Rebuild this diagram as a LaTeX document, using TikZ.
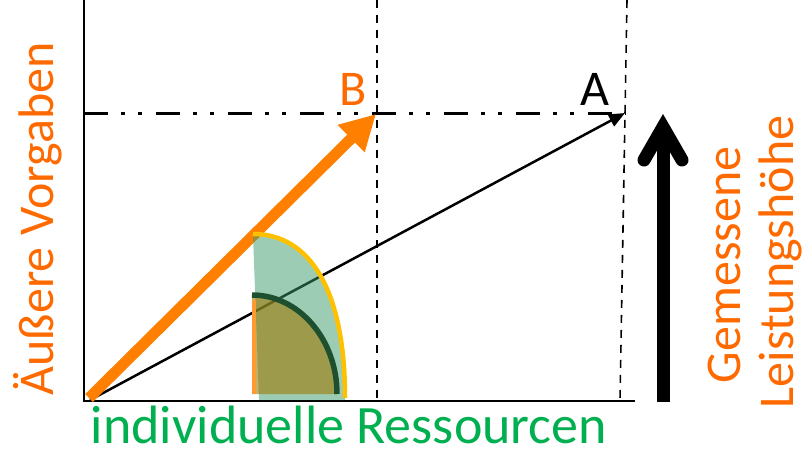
\documentclass[tikz,border=0pt]{standalone}
\usepackage{fontspec}
\setmainfont{Carlito}
\usetikzlibrary{arrows.meta}

\definecolor{vorgabeorange}{HTML}{FF6A00}
\definecolor{pfeilorange}{HTML}{FF8000}
\definecolor{ressgruen}{HTML}{00B050}
\definecolor{fuellgruen}{RGB}{59,153,105}
\definecolor{fuelloliv}{RGB}{159,121,5}
\definecolor{bogengruen}{HTML}{1E5030}
\definecolor{bogengelb}{HTML}{FFC000}

\tikzset{
  achse/.style={line width=2pt},
  hilfslinie/.style={line width=1.6pt, dash pattern=on 8pt off 7pt},
  niveau/.style={line width=3pt, dash pattern=on 24pt off 13pt on 4pt off 13pt on 4pt off 14pt},
  beschriftung/.style={inner sep=0pt, font=\fontsize{50}{54}\selectfont}
}

\begin{document}
\begin{tikzpicture}[x=1pt, y=-1pt]

    \useasboundingbox (0,0) rectangle (806,450);

    % --- Coordinates ---
    \coordinate (O) at (84,401);
    \coordinate (ytop) at (84,0);
    \coordinate (xend) at (635,401);
    \coordinate (B) at (376,114);
    \coordinate (A) at (625,113);

    % --- Axes ---
    \draw[achse] (ytop) -- (O) -- (xend);

    % --- Guide lines ---
    \draw[hilfslinie] (377,0) -- (377,400);
    \draw[hilfslinie] (627,0) -- (620,400);
    \draw[niveau] (84,113) -- (626,113);

    % --- Arrows to A and B ---
    \draw[line width=2.5pt, -{Triangle[length=16pt,width=13pt]}] (90,400) -- (A);
    \draw[pfeilorange, line width=11pt, -{Triangle[length=35pt,width=36pt]}] (89,398) -- (B);

    % --- Resource areas ---
    \fill[fuellgruen, opacity=.5] (253,235) -- (259,400) -- (345,400)
        .. controls (345,290) and (310,234) .. (253,235) -- cycle;
    \fill[fuelloliv, opacity=.6] (337,394) arc[start angle=0, end angle=-90, x radius=85, y radius=99]
        -- (252,394) -- cycle;
    \draw[line width=4pt, pfeilorange!80] (254,300) -- (254,394);
    \draw[bogengruen, line width=5.5pt] (337,394) arc[start angle=0, end angle=-90, x radius=85, y radius=99];
    \draw[bogengelb, line width=4.5pt] (253,234) .. controls (310,234) and (345,290) .. (345,398);

    % --- Measured performance arrow ---
    \draw[line width=13pt] (663,402) -- (663,128);
    \draw[line width=13pt, line cap=round, line join=miter] (644,160) -- (663,127) -- (682,160);

    % --- Labels ---
    \node[beschriftung, vorgabeorange, anchor=base] (labB) at (353,105) {B};
    \node[beschriftung, anchor=base] (labA) at (595,105) {A};
    \node[beschriftung, vorgabeorange, rotate=90, anchor=base] (vorgaben) at (53,219) {Äußere Vorgaben};
    \node[beschriftung, ressgruen, anchor=base, font=\fontsize{54}{58}\selectfont] (ressourcen) at (349,443) {individuelle Ressourcen};
    \node[beschriftung, vorgabeorange, rotate=90, anchor=base] (gemessen) at (740,265) {Gemessene};
    \node[beschriftung, vorgabeorange, rotate=90, anchor=base] (leistung) at (793,262) {Leistungshöhe};

\end{tikzpicture}
\end{document}
